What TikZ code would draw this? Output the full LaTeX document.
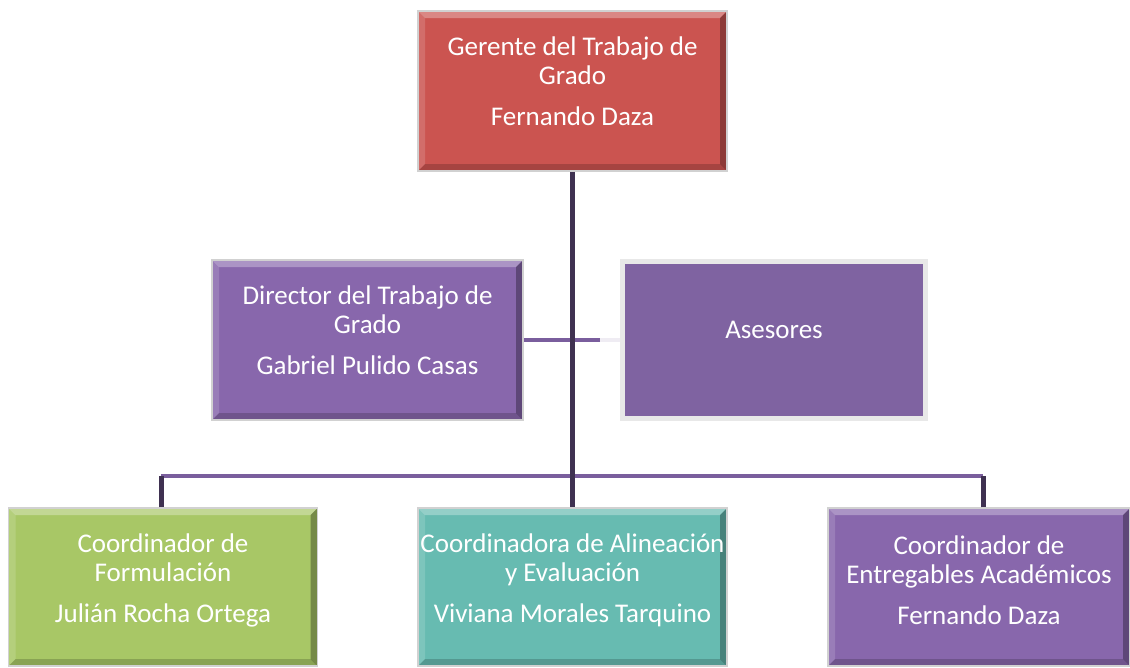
\documentclass[tikz,border=0pt]{standalone}
\usepackage{fontspec}
\setmainfont{Carlito}
\usetikzlibrary{positioning}

\definecolor{gerente}{HTML}{CB5450}
\definecolor{lila}{HTML}{8867AC}
\definecolor{asesor}{HTML}{7F63A1}
\definecolor{verde}{HTML}{A8C766}
\definecolor{turquesa}{HTML}{67BBB1}
\definecolor{tronco}{HTML}{3F3151}
\definecolor{ramal}{HTML}{7A5E9D}

\tikzset{
  cargo/.style={draw=black!18, line width=1.5pt, minimum width=309pt, minimum height=160pt,
    path picture={
      \coordinate (nw) at (path picture bounding box.north west);
      \coordinate (ne) at (path picture bounding box.north east);
      \coordinate (sw) at (path picture bounding box.south west);
      \coordinate (se) at (path picture bounding box.south east);
      \fill[white,opacity=.3] (nw) -- (ne) -- ([shift={(-7pt,-7pt)}]ne) -- ([shift={(7pt,-7pt)}]nw) -- cycle;
      \fill[white,opacity=.15] (nw) -- ([shift={(7pt,-7pt)}]nw) -- ([shift={(7pt,7pt)}]sw) -- (sw) -- cycle;
      \fill[black,opacity=.3] (ne) -- (se) -- ([shift={(-7pt,7pt)}]se) -- ([shift={(-7pt,-7pt)}]ne) -- cycle;
      \fill[black,opacity=.18] (sw) -- (se) -- ([shift={(-7pt,7pt)}]se) -- ([shift={(7pt,7pt)}]sw) -- cycle;
    }},
  txt/.style={text=white, align=center, font=\fontsize{27}{29}\selectfont},
  trunk/.style={draw=tronco, line width=5pt},
  link/.style={draw=ramal, line width=4.5pt}
}

\begin{document}
\begin{tikzpicture}[x=1pt,y=-1pt]
\useasboundingbox (0,0) rectangle (1130,667);

% cargos
\node[cargo, fill=gerente] (ger) at (572.5,91) {};
\node[cargo, fill=lila, minimum width=311pt] (dir) at (367.5,340) {};
\node[draw=black!9, line width=5pt, fill=asesor, minimum width=303pt, minimum height=157pt] (ase) at (774,340) {};
\node[cargo, fill=verde, minimum height=158pt] (form) at (163,587) {};
\node[cargo, fill=turquesa, minimum height=158pt] (alin) at (572.5,587) {};
\node[cargo, fill=lila, minimum width=302pt, minimum height=158pt] (entr) at (979,587) {};

% textos
\node[txt] (ger-t) at ([yshift=10pt]ger.center) {Gerente del Trabajo de\\Grado\\[12pt]Fernando Daza};
\node[txt] (dir-t) at ([yshift=10pt]dir.center) {Director del Trabajo de\\Grado\\[12pt]Gabriel Pulido Casas};
\node[txt] (ase-t) at ([yshift=10pt]ase.center) {Asesores};
\node[txt] (form-t) at ([yshift=7pt]form.center) {Coordinador de\\Formulación\\[12pt]Julián Rocha Ortega};
\node[txt] (alin-t) at ([yshift=7pt]alin.center) {Coordinadora de Alineación\\y Evaluación\\[12pt]Viviana Morales Tarquino};
\node[txt] (entr-t) at ([yshift=7pt]entr.center) {Coordinador de\\Entregables Académicos\\[12pt]Fernando Daza};

% conectores
\coordinate (bus-i) at (161,476);
\coordinate (bus-d) at (983,476);
\coordinate (corte) at (600,340);
\draw[link] (dir.east) -- (corte);
\draw[draw=ramal!12, line width=4.5pt] (corte) -- (ase.west);
\draw[link] (bus-i) -- (bus-d);
\draw[trunk] (bus-i |- form.north) -- (bus-i);
\draw[trunk] (bus-d |- entr.north) -- (bus-d);
\draw[trunk] (ger.south) -- (alin.north);
\end{tikzpicture}
\end{document}
